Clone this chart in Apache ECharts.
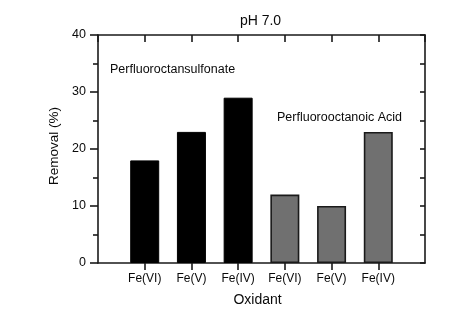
<!DOCTYPE html>
<html><head><meta charset="utf-8">
<script src="https://cdn.jsdelivr.net/npm/echarts@6/dist/echarts.min.js"></script>
<style>html,body{margin:0;padding:0;background:#fff}#c{width:473px;height:325px}</style>
</head><body><div id="c"></div>
<script>
const categories = ['Fe(VI)','Fe(V)','Fe(IV)','Fe(VI)','Fe(V)','Fe(IV)'];
const pfosPositions = [1,2,3];
const pfosValues = [18,23,29];
const pfoaPositions = [4,5,6];
const pfoaValues = [12,10,23];
const yTicks = [0,10,20,30,40];

const font = 'Liberation Sans, Arial, Helvetica, sans-serif';
const axisCol = '#1a1a1a';
const txt = '#0a0a0a';
const chart = echarts.init(document.getElementById('c'), null, {renderer:'canvas'});
chart.setOption({
  animation:false,
  backgroundColor:'#fff',
  title:[
    {text:'pH 7.0', left:260.5, top:14, padding:0, textAlign:'center',
     textStyle:{fontFamily:font,fontSize:14,fontWeight:'normal',color:txt}},
    {text:'Perfluoroctansulfonate', left:110, top:63, padding:0,
     textStyle:{fontFamily:font,fontSize:12.5,fontWeight:'normal',color:txt}},
    {text:'Perfluorooctanoic Acid', left:277, top:111, padding:0,
     textStyle:{fontFamily:font,fontSize:12.5,fontWeight:'normal',color:txt}}
  ],
  grid:{left:98,right:48,top:35,bottom:62},
  xAxis:[
    {type:'value',position:'bottom',min:0,max:7,interval:1,
     name:'Oxidant',nameLocation:'middle',nameGap:30,
     nameTextStyle:{fontFamily:font,fontSize:14,color:txt,padding:[0,8,0,0]},
     axisLine:{lineStyle:{color:axisCol,width:1.6}},
     axisTick:{inside:false,length:7,lineStyle:{color:axisCol,width:1.6}},
     axisLabel:{fontFamily:font,fontSize:12,color:txt,margin:10,
       formatter:v=>categories[v-1]||'',
       showMinLabel:false,showMaxLabel:false},
     splitLine:{show:false}},
    {type:'value',position:'top',min:0,max:7,interval:1,
     axisLine:{show:true,onZero:false,lineStyle:{color:axisCol,width:1.6}},
     axisTick:{inside:true,length:7,lineStyle:{color:axisCol,width:1.6}},
     axisLabel:{show:false},splitLine:{show:false}}
  ],
  yAxis:[
    {type:'value',position:'left',min:0,max:40,interval:10,
     name:'Removal (%)',nameLocation:'middle',nameGap:33,
     nameTextStyle:{fontFamily:font,fontSize:13.5,color:txt,padding:[0,0,0,6]},
     axisLine:{show:true,lineStyle:{color:axisCol,width:1.6}},
     axisTick:{show:true,length:8,lineStyle:{color:axisCol,width:1.6}},
     minorTick:{show:true,splitNumber:2,length:5,lineStyle:{color:axisCol,width:1.6}},
     axisLabel:{fontFamily:font,fontSize:12.5,color:txt,margin:12,
       formatter:v=>yTicks.includes(v)?String(v):''},
     splitLine:{show:false},minorSplitLine:{show:false}},
    {type:'value',position:'right',min:0,max:40,interval:5,
     axisLine:{show:true,onZero:false,lineStyle:{color:axisCol,width:1.6}},
     axisTick:{show:true,inside:true,length:5,lineStyle:{color:axisCol,width:1.6}},
     axisLabel:{show:false},splitLine:{show:false}}
  ],
  series:[
    {type:'bar',xAxisIndex:0,yAxisIndex:0,barWidth:29,barGap:'-100%',
     data:pfosPositions.map((x,i)=>[x,pfosValues[i]]),
     itemStyle:{color:'#000',borderColor:'#000',borderWidth:1}},
    {type:'bar',xAxisIndex:0,yAxisIndex:0,barWidth:29,barGap:'-100%',
     data:pfoaPositions.map((x,i)=>[x,pfoaValues[i]]),
     itemStyle:{color:'#707070',borderColor:'#1a1a1a',borderWidth:1.6}}
  ]
});
</script></body></html>
